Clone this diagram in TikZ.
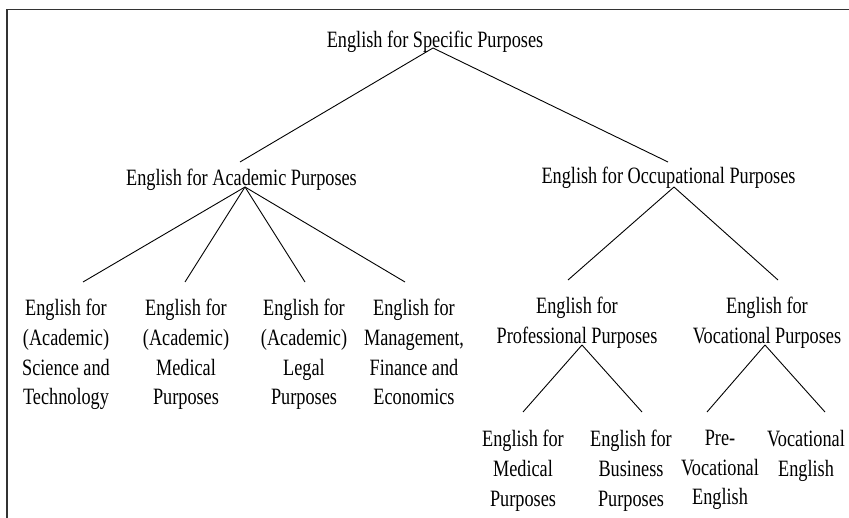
\documentclass[tikz,border=0pt]{standalone}
\usepackage{fontspec}
\setmainfont{Liberation Serif}[FakeStretch=0.78]
\begin{document}
\begin{tikzpicture}[x=1pt,y=-1pt,
  lbl/.style={anchor=north,align=center,inner sep=0pt,font=\fontsize{23.4}{29.7}\selectfont},
  conn/.style={draw=black,line width=0.9pt},
  frameline/.style={draw=black!80,line width=1.6pt}]
\useasboundingbox (0,0) rectangle (849,518);
\draw[frameline] (7,518) coordinate (fa) -- (7,9.5) -- (849,9.5) coordinate (fb);
% nodes (north anchor = first baseline - 16)
\node[lbl] (root) at (435,31) {English for Specific Purposes};
\node[lbl] (eap) at (241.5,169) {English for Academic Purposes};
\node[lbl] (eop) at (668.5,167) {English for Occupational Purposes};
\node[lbl] (a1) at (66,299) {English for\\(Academic)\\Science and\\Technology};
\node[lbl] (a2) at (186,299) {English for\\(Academic)\\Medical\\Purposes};
\node[lbl] (a3) at (304,299) {English for\\(Academic)\\Legal\\Purposes};
\node[lbl] (a4) at (414,299) {English for\\Management,\\Finance and\\Economics};
\node[lbl] (pp) at (577,297) {English for\\Professional Purposes};
\node[lbl] (vp) at (767,297) {English for\\Vocational Purposes};
\node[lbl] (b1) at (523,430) {English for\\Medical\\Purposes};
\node[lbl] (b2) at (631,430) {English for\\Business\\Purposes};
\node[lbl] (b3) at (720,430) {Pre-\\Vocational\\English};
\node[lbl] (b4) at (806,430) {Vocational\\English};
% connectors
\draw[conn] ([shift={(-2,17)}]root.north) -- ([shift={(-1.5,-7)}]eap.north);
\draw[conn] ([shift={(-2,17)}]root.north) -- ([shift={(-0.5,-5)}]eop.north);
\draw[conn] ([shift={(3.5,18)}]eap.north) -- ([shift={(17,-17)}]a1.north);
\draw[conn] ([shift={(3.5,18)}]eap.north) -- ([shift={(-1,-17)}]a2.north);
\draw[conn] ([shift={(3.5,18)}]eap.north) -- ([shift={(1,-17)}]a3.north);
\draw[conn] ([shift={(3.5,18)}]eap.north) -- ([shift={(-9,-17)}]a4.north);
\draw[conn] ([shift={(5.5,20)}]eop.north) -- ([shift={(-9,-17)}]pp.north);
\draw[conn] ([shift={(5.5,20)}]eop.north) -- ([shift={(11,-17)}]vp.north);
\draw[conn] ([shift={(5,48)}]pp.north) -- ([shift={(0,-18)}]b1.north);
\draw[conn] ([shift={(5,48)}]pp.north) -- ([shift={(11,-18)}]b2.north);
\draw[conn] ([shift={(-2,48)}]vp.north) -- ([shift={(-13,-18)}]b3.north);
\draw[conn] ([shift={(-2,48)}]vp.north) -- ([shift={(19,-18)}]b4.north);
\end{tikzpicture}
\end{document}
